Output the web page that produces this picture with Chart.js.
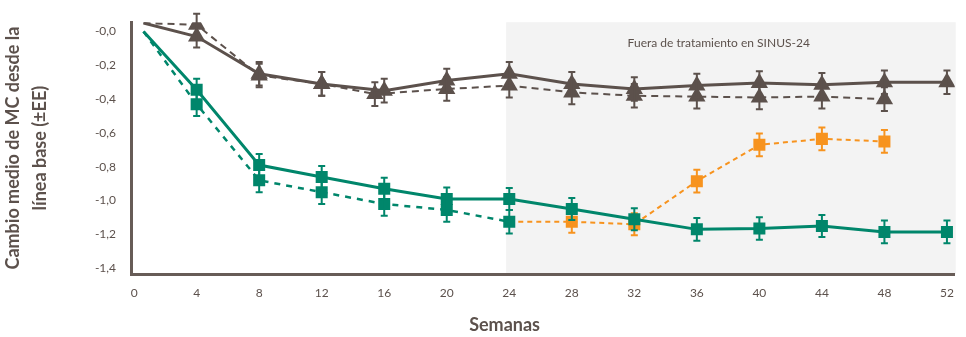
<!DOCTYPE html>
<html lang="es">
<head>
<meta charset="utf-8">
<script src="https://cdn.jsdelivr.net/npm/chart.js@4.4.1/dist/chart.umd.min.js"></script>
<style>
  html, body { margin: 0; padding: 0; background: #fff; }
  #wrap { width: 966px; height: 337px; position: relative; }
</style>
</head>
<body>
<div id="wrap"><canvas id="chart"></canvas></div>
<script>
// @ts-check

// Weeks for each series (first point is the baseline start of the lines)
const weeksLong = [0.6, 4, 8, 12, 16, 20, 24, 28, 32, 36, 40, 44, 48, 52];
const weeksPlaceboShort = [0.6, 4, 8, 12, 15.4, 20, 24, 28, 32, 36, 40, 44, 48];
const weeksDupiShort = [0.6, 4, 8, 12, 16, 20, 24];
const weeksOffTreatment = [24, 28, 32, 36, 40, 44, 48];

// Mean change from baseline
const placeboLong = [0.05, -0.03, -0.25, -0.31, -0.35, -0.29, -0.25, -0.31, -0.34, -0.32, -0.305, -0.315, -0.30, -0.30];
const placeboShort = [0.05, 0.04, -0.26, -0.31, -0.37, -0.34, -0.32, -0.36, -0.38, -0.385, -0.39, -0.385, -0.40];
const dupiLong = [0, -0.345, -0.79, -0.86, -0.93, -0.99, -0.99, -1.05, -1.11, -1.17, -1.165, -1.15, -1.185, -1.185];
const dupiShort = [0, -0.43, -0.88, -0.95, -1.02, -1.055, -1.125];
const dupiOff = [-1.125, -1.125, -1.14, -0.885, -0.67, -0.635, -0.65];

// Standard errors
const placeboLongSe = [0, 0.065, 0.07, 0.07, 0.07, 0.07, 0.07, 0.07, 0.07, 0.07, 0.07, 0.07, 0.07, 0.07];
const placeboShortSe = [0, 0.065, 0.07, 0.07, 0.07, 0.07, 0.07, 0.07, 0.07, 0.07, 0.07, 0.07, 0.07];
const dupiLongSe = [0, 0.065, 0.065, 0.065, 0.065, 0.067, 0.065, 0.065, 0.065, 0.067, 0.067, 0.065, 0.067, 0.067];
const dupiShortSe = [0, 0.07, 0.07, 0.07, 0.07, 0.07, 0.07];
const dupiOffSe = [0, 0.065, 0.065, 0.067, 0.067, 0.067, 0.067];

const xTicks = [0, 4, 8, 12, 16, 20, 24, 28, 32, 36, 40, 44, 48, 52];
const yTicks = [0, -0.2, -0.4, -0.6, -0.8, -1.0, -1.2, -1.4];
const yTickLabels = ['-0,0', '-0,2', '-0,4', '-0,6', '-0,8', '-1,0', '-1,2', '-1,4'];

const GRAY = '#5c514c';
const GREEN = '#00866b';
const ORANGE = '#f7931e';
const FONT = 'Lato, "Open Sans", sans-serif';

const toPoints = (xs, ys) => xs.map((x, i) => ({ x, y: ys[i] }));
const hideFirst = (r) => (c) => (c.dataIndex === 0 ? 0 : r);

// Vertical error bars with caps
const errorBars = {
  id: 'errorBars',
  afterDatasetDraw(chart, args) {
    const ds = chart.data.datasets[args.index];
    // @ts-ignore
    const se = ds.se;
    if (!se) return;
    const yScale = chart.scales.y;
    const ctx = chart.ctx;
    ctx.save();
    ctx.strokeStyle = ds.borderColor;
    ctx.lineWidth = 2;
    args.meta.data.forEach((pt, i) => {
      if (!se[i]) return;
      // @ts-ignore
      const v = ds.data[i].y;
      const top = yScale.getPixelForValue(v + se[i]);
      const bot = yScale.getPixelForValue(v - se[i]);
      ctx.beginPath();
      ctx.moveTo(pt.x, top);
      ctx.lineTo(pt.x, bot);
      ctx.moveTo(pt.x - 3.5, top);
      ctx.lineTo(pt.x + 3.5, top);
      ctx.moveTo(pt.x - 3.5, bot);
      ctx.lineTo(pt.x + 3.5, bot);
      ctx.stroke();
    });
    ctx.restore();
  }
};

// Off-treatment shading and text labels
const decorations = {
  id: 'decorations',
  beforeDraw(chart) {
    const { ctx, chartArea } = chart;
    const x = chart.scales.x;
    const left = x.getPixelForValue(23.8);
    ctx.save();
    ctx.fillStyle = '#f3f3f3';
    ctx.fillRect(left, chartArea.top, chartArea.right + 1 - left, chartArea.bottom - chartArea.top);
    ctx.restore();
  },
  afterDraw(chart) {
    const { ctx, chartArea } = chart;
    const x = chart.scales.x;
    ctx.save();
    ctx.fillStyle = GRAY;
    ctx.textAlign = 'center';
    ctx.textBaseline = 'middle';
    ctx.font = '12px ' + FONT;
    ctx.fillText('Fuera de tratamiento en SINUS-24', x.getPixelForValue(37.4), chartArea.top + 21);
    ctx.font = 'bold 18px ' + FONT;
    ctx.fillText('Semanas', x.getPixelForValue(23.7), 325);
    ctx.restore();
  }
};

// @ts-ignore
new Chart(document.getElementById('chart'), {
  type: 'line',
  data: {
    datasets: [
      {
        label: 'Dupilumab SINUS-52',
        data: toPoints(weeksLong, dupiLong),
        se: dupiLongSe,
        borderColor: GREEN,
        backgroundColor: GREEN,
        borderWidth: 3,
        pointStyle: 'rect',
        pointRadius: hideFirst(8.5),
        pointBorderWidth: 0
      },
      {
        label: 'Dupilumab SINUS-24',
        data: toPoints(weeksDupiShort, dupiShort),
        se: dupiShortSe,
        borderColor: GREEN,
        backgroundColor: GREEN,
        borderWidth: 2.5,
        borderDash: [6, 6],
        pointStyle: 'rect',
        pointRadius: hideFirst(8.5),
        pointBorderWidth: 0
      },
      {
        label: 'Dupilumab SINUS-24 (fuera de tratamiento)',
        data: toPoints(weeksOffTreatment, dupiOff),
        se: dupiOffSe,
        borderColor: ORANGE,
        backgroundColor: ORANGE,
        borderWidth: 2,
        borderDash: [5, 4],
        pointStyle: 'rect',
        pointRadius: hideFirst(8.5),
        pointBorderWidth: 0
      },
      {
        label: 'Placebo SINUS-52',
        data: toPoints(weeksLong, placeboLong),
        se: placeboLongSe,
        borderColor: GRAY,
        backgroundColor: GRAY,
        borderWidth: 3,
        pointStyle: 'triangle',
        pointRadius: hideFirst(10),
        pointBorderWidth: 0
      },
      {
        label: 'Placebo SINUS-24',
        data: toPoints(weeksPlaceboShort, placeboShort),
        se: placeboShortSe,
        borderColor: GRAY,
        backgroundColor: GRAY,
        borderWidth: 2,
        borderDash: [7, 5],
        pointStyle: 'triangle',
        pointRadius: hideFirst(10),
        pointBorderWidth: 0
      }
    ]
  },
  options: {
    responsive: true,
    maintainAspectRatio: false,
    animation: false,
    layout: { padding: { top: 12, right: 6, left: 0, bottom: 0 } },
    plugins: {
      legend: { display: false },
      tooltip: { enabled: false }
    },
    scales: {
      x: {
        type: 'linear',
        min: -0.2,
        max: 52.5,
        afterBuildTicks: (scale) => { scale.ticks = xTicks.map((v) => ({ value: v })); },
        afterFit: (scale) => { scale.height = 63; },
        grid: { display: false, drawTicks: false },
        border: { display: true, color: '#675c57', width: 3 },
        ticks: {
          color: GRAY,
          font: { family: FONT, size: 12 },
          padding: 12,
          maxRotation: 0,
          autoSkip: false
        }
      },
      y: {
        min: -1.434,
        max: 0.055,
        afterBuildTicks: (scale) => { scale.ticks = yTicks.map((v) => ({ value: v })); },
        afterFit: (scale) => { scale.width = 131; },
        grid: { display: false, drawTicks: false },
        border: { display: true, color: '#675c57', width: 3 },
        ticks: {
          color: GRAY,
          font: { family: FONT, size: 12 },
          padding: 15,
          callback: (value, index) => yTickLabels[index]
        },
        title: {
          display: true,
          text: ['Cambio medio de MC desde la', 'línea base (±EE)'],
          color: GRAY,
          font: { family: FONT, size: 18, weight: 'bold', lineHeight: 1.5 },
          padding: { top: 0, bottom: 0 }
        }
      }
    }
  },
  plugins: [errorBars, decorations]
});
</script>
</body>
</html>
